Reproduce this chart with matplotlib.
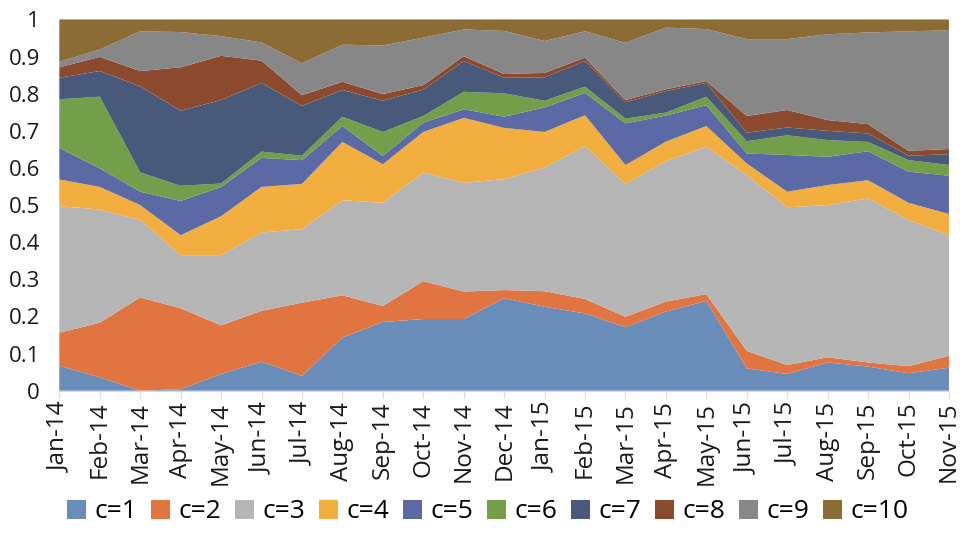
import matplotlib
matplotlib.use("Agg")
import matplotlib.pyplot as plt
import numpy as np
from matplotlib.patches import Patch

months = ["Jan-14", "Feb-14", "Mar-14", "Apr-14", "May-14", "Jun-14", "Jul-14", "Aug-14",
          "Sep-14", "Oct-14", "Nov-14", "Dec-14", "Jan-15", "Feb-15", "Mar-15", "Apr-15",
          "May-15", "Jun-15", "Jul-15", "Aug-15", "Sep-15", "Oct-15", "Nov-15"]

c1 = [.067, .036, .000, .004, .045, .078, .040, .143, .185, .193, .193, .249, .226, .208, .171, .213, .242, .060, .045, .076, .065, .047, .062]
c2 = [.089, .147, .251, .218, .131, .137, .197, .114, .043, .102, .074, .022, .042, .039, .028, .027, .018, .047, .024, .014, .011, .019, .032]
c3 = [.341, .305, .209, .143, .189, .211, .198, .256, .278, .293, .293, .299, .333, .412, .358, .378, .397, .474, .425, .410, .442, .394, .325]
c4 = [.072, .061, .040, .054, .105, .123, .122, .157, .104, .109, .175, .138, .096, .083, .051, .053, .056, .031, .042, .054, .049, .046, .057]
c5 = [.085, .050, .036, .092, .079, .078, .064, .043, .022, .025, .023, .030, .066, .060, .112, .070, .056, .027, .099, .076, .078, .084, .103]
c6 = [.131, .193, .052, .041, .009, .017, .012, .025, .065, .018, .047, .063, .018, .017, .013, .008, .023, .033, .053, .045, .025, .031, .029]
c7 = [.058, .069, .232, .202, .225, .185, .134, .072, .084, .071, .083, .042, .063, .069, .044, .058, .037, .023, .021, .025, .023, .012, .029]
c8 = [.028, .038, .041, .117, .119, .060, .029, .022, .018, .012, .013, .010, .012, .009, .006, .005, .005, .045, .047, .029, .025, .013, .014]
c9 = [.015, .020, .107, .095, .053, .049, .086, .100, .131, .128, .072, .116, .086, .071, .154, .166, .140, .207, .191, .231, .247, .322, .320]
c10 = [.114, .081, .032, .034, .045, .062, .118, .068, .070, .049, .027, .031, .058, .032, .063, .022, .026, .053, .053, .040, .035, .032, .029]

series_names = ["c=1", "c=2", "c=3", "c=4", "c=5", "c=6", "c=7", "c=8", "c=9", "c=10"]
colors = ["#6A8CB8", "#E07542", "#B5B6B5", "#F2AE3F", "#5B69A5",
          "#739E4A", "#48597A", "#8B4A2D", "#868786", "#8C6C35"]

font = "Open Sans"
plt.rcParams["font.family"] = [font, "DejaVu Sans"]

fig = plt.figure(figsize=(9.6, 5.4), dpi=100)
ax = fig.add_axes([0.0618, 0.2765, 0.9267, 0.6875])

x = np.arange(len(months))
ax.stackplot(x, c1, c2, c3, c4, c5, c6, c7, c8, c9, c10, colors=colors, linewidth=0)

ax.set_xlim(0, len(months) - 1)
ax.set_ylim(0, 1)
ax.set_xticks(x)
ax.set_xticklabels(months, rotation=90, fontsize=17.5, color="#1a1a1a")
yt = np.round(np.arange(0, 1.01, 0.1), 1)
ax.set_yticks(yt)
ax.set_yticklabels(["0" if v == 0 else ("1" if v == 1 else f"{v:g}") for v in yt],
                   fontsize=16, color="#1a1a1a")
for s in ["top", "right", "left"]:
    ax.spines[s].set_visible(False)
ax.spines["bottom"].set_color("#d9d9d9")
ax.tick_params(axis="y", length=0, pad=14)
ax.tick_params(axis="x", length=5, color="#d9d9d9", pad=3)

handles = [Patch(facecolor=c, edgecolor="none") for c in colors]
fig.legend(handles, series_names, loc="center", bbox_to_anchor=(0.508, 0.052),
           ncol=10, frameon=False, fontsize=19, handlelength=0.72, handleheight=0.72,
           handletextpad=0.34, columnspacing=0.5, borderpad=0, borderaxespad=0)

fig.savefig("out.png", dpi=100)
